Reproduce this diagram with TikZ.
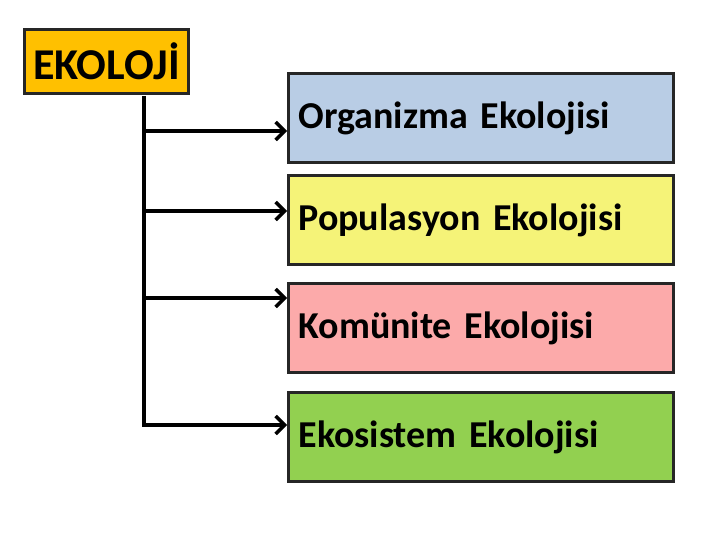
\documentclass[tikz,border=0pt]{standalone}
\usepackage{fontspec}
\setmainfont{Carlito}
\usetikzlibrary{arrows.meta}
\definecolor{orangeb}{HTML}{FFC000}
\definecolor{blueb}{HTML}{B9CDE5}
\definecolor{yellowb}{HTML}{F5F378}
\definecolor{pinkb}{HTML}{FCAAAA}
\definecolor{greenb}{HTML}{92D050}
\definecolor{edge}{HTML}{262626}
\begin{document}
\begin{tikzpicture}[x=1pt,y=-1pt,
  box/.style={draw=edge, line width=3pt, minimum width=385pt, minimum height=89pt, anchor=north west, inner xsep=9pt, inner ysep=0pt, text width=365pt, align=left, font=\bfseries\fontsize{38}{44}\selectfont},
  conn/.style={line width=4pt, -{Straight Barb[length=9pt,width=18pt,line width=3.5pt]}}]
\useasboundingbox (0,0) rectangle (720,540);
\node[draw=edge, line width=3pt, fill=orangeb, minimum width=164pt, minimum height=64pt, inner sep=0pt, font=\bfseries\fontsize{44}{50}\selectfont, anchor=north west] (eko) at (23,28) {EKOLOJİ};
\node[box, fill=blueb] (b1) at (287,72) {Organizma Ekolojisi};
\node[box, fill=yellowb] (b2) at (287,174) {Populasyon Ekolojisi};
\node[box, fill=pinkb] (b3) at (287,282) {Komünite Ekolojisi};
\node[box, fill=greenb] (b4) at (287,391) {Ekosistem Ekolojisi};
\coordinate (top) at (144,96);
\coordinate (c1) at (144,131);
\coordinate (c2) at (144,211);
\coordinate (c3) at (144,298);
\coordinate (c4) at (144,425);
\draw[line width=4pt] (top) -- (144,427);
\draw[conn] (c1) -- (b1.west |- c1);
\draw[conn] (c2) -- (b2.west |- c2);
\draw[conn] (c3) -- (b3.west |- c3);
\draw[conn] (c4) -- (b4.west |- c4);
\end{tikzpicture}
\end{document}
